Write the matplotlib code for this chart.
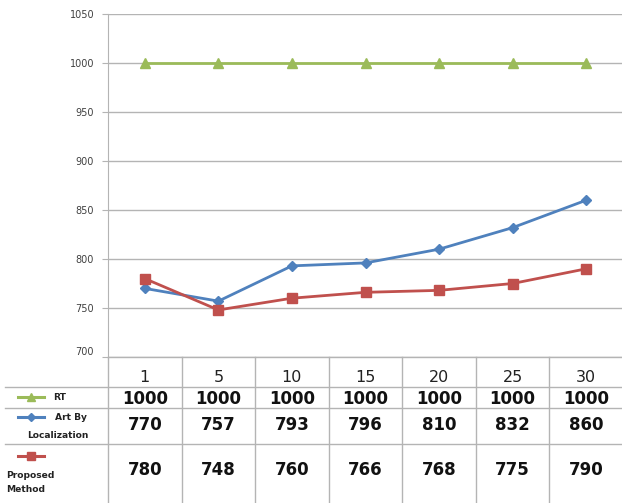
import matplotlib
matplotlib.use("Agg")
import matplotlib.pyplot as plt
from matplotlib.transforms import blended_transform_factory

# categories along the x axis
steps = ["1", "5", "10", "15", "20", "25", "30"]

rt = [1000, 1000, 1000, 1000, 1000, 1000, 1000]
art_by_loc = [770, 757, 793, 796, 810, 832, 860]
proposed = [780, 748, 760, 766, 768, 775, 790]

yticks = [700, 750, 800, 850, 900, 950, 1000, 1050]

GREEN = "#9BBB59"
BLUE = "#4F81BD"
RED = "#C0504D"
GRID = "#B4B4B4"

W, H = 622, 503
fig = plt.figure(figsize=(W / 100, H / 100), dpi=100)

# plot area in pixel units (left, top, right, bottom)
left, top, right, bottom = 108, 14, 623, 357
ax = fig.add_axes([left / W, 1 - bottom / H, (right - left) / W, (bottom - top) / H])

x = list(range(len(steps)))
ax.plot(x, rt, color=GREEN, lw=2.0, marker="^", ms=7, zorder=3)
ax.plot(x, art_by_loc, color=BLUE, lw=2.0, marker="D", ms=5, zorder=3)
ax.plot(x, proposed, color=RED, lw=2.0, marker="s", ms=6.5, zorder=4)

ax.set_xlim(-0.5, len(steps) - 0.5)
ax.set_ylim(700, 1050)
ax.set_yticks(yticks)
ax.set_yticklabels([str(v) for v in yticks], fontsize=7, color="#404040")
# bottom label sits a bit above its gridline
ax.get_yticklabels()[0].set_va("bottom")
ax.set_xticks([])
ax.grid(axis="y", color=GRID, lw=1)
ax.set_axisbelow(True)
for s in ["top", "right", "bottom"]:
    ax.spines[s].set_visible(False)
ax.spines["left"].set_color(GRID)
ax.tick_params(axis="y", length=4, color=GRID, pad=6)

# data table underneath, drawn on a pixel-coordinate overlay
tab = fig.add_axes([0, 0, 1, 1])
tab.set_xlim(0, W)
tab.set_ylim(H, 0)
tab.axis("off")
tab.patch.set_alpha(0)
trans = blended_transform_factory(ax.transData, tab.transData)

line_kw = dict(color=GRID, lw=1)
# column borders
for b in [i - 0.5 for i in range(len(steps) + 1)]:
    tab.plot([b, b], [bottom, H], transform=trans, **line_kw)
tab.plot([left, W], [bottom, bottom], **line_kw)
for yy in [387, 408, 444]:
    tab.plot([5, W], [yy, yy], **line_kw)

rows = [(rt, 399), (art_by_loc, 425), (proposed, 470)]
for i, s in enumerate(steps):
    tab.text(i, 377, s, transform=trans, ha="center", va="center",
             fontsize=11.5, color="#222222")
    for vals, yy in rows:
        tab.text(i, yy, str(vals[i]), transform=trans, ha="center", va="center",
                 fontsize=12, fontweight="bold", color="#111111")

# legend keys in the left column
keys = [(GREEN, "^", 6, 397), (BLUE, "D", 4.5, 417), (RED, "s", 6, 456)]
for col, mk, size, yy in keys:
    tab.plot([18, 44], [yy, yy], color=col, lw=2.2)
    tab.plot([31], [yy], color=col, marker=mk, ms=size, lw=0)

lab_kw = dict(fontsize=6.6, fontweight="bold", color="#222222", va="center")
tab.text(53, 398, "RT", **lab_kw)
tab.text(55, 417, "Art By", **lab_kw)
tab.text(27, 436, "Localization", **lab_kw)
tab.text(6, 476, "Proposed", **lab_kw)
tab.text(6, 490, "Method", **lab_kw)

fig.savefig("out.png", dpi=100)
